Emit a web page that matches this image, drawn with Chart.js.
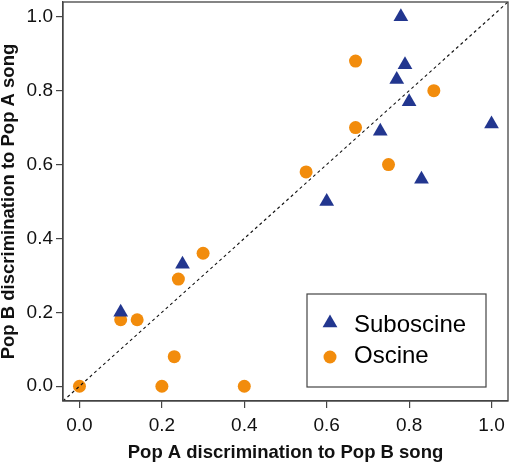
<!DOCTYPE html>
<html>
<head>
<meta charset="utf-8">
<script src="https://cdn.jsdelivr.net/npm/chart.js@4.4.1/dist/chart.umd.min.js"></script>
<style>
  html, body { margin: 0; padding: 0; background: #fff; }
  #wrap { width: 510px; height: 464px; }
</style>
</head>
<body>
<div id="wrap"><canvas id="grafico"></canvas></div>
<script>
// Dados
const suboscineX = [0.10, 0.25, 0.60, 0.73, 0.77, 0.78, 0.79, 0.80, 0.83, 1.00];
const suboscineY = [0.20, 0.33, 0.50, 0.69, 0.83, 1.00, 0.87, 0.77, 0.56, 0.71];

const oscineX = [0.00, 0.20, 0.40, 0.23, 0.10, 0.14, 0.24, 0.30, 0.55, 0.67, 0.67, 0.75, 0.86];
const oscineY = [0.00, 0.00, 0.00, 0.08, 0.18, 0.18, 0.29, 0.36, 0.58, 0.70, 0.88, 0.60, 0.80];

const diagonal = [-0.04, 1.04];
const ticksValores = [0.0, 0.2, 0.4, 0.6, 0.8, 1.0];

const azul = '#22368f';
const laranja = '#f28c0c';
const fonte = '"Liberation Sans", Arial, Helvetica, sans-serif';

function pontos(xs, ys) {
  return xs.map((x, i) => ({ x: x, y: ys[i] }));
}

// tira o espaço extra que o Chart.js reserva para os rótulos das pontas
function semPadding(s) {
  s.paddingTop = 0;
  s.paddingBottom = 0;
  s.paddingLeft = 0;
  s.paddingRight = 0;
}

// Caixa em volta do gráfico + legenda interna
const caixaPlugin = {
  id: 'caixa',
  afterDraw(chart) {
    const ctx = chart.ctx;
    const a = chart.chartArea;
    ctx.save();
    ctx.strokeStyle = '#444';
    ctx.lineWidth = 1.3;
    ctx.strokeRect(a.left, a.top, a.right - a.left, a.bottom - a.top);

    // legenda
    const w = 179, h = 93;
    const lx = a.right - 22 - w;
    const ly = a.bottom - 14 - h;
    ctx.fillStyle = '#fff';
    ctx.fillRect(lx, ly, w, h);
    ctx.strokeStyle = '#444';
    ctx.lineWidth = 1.2;
    ctx.strokeRect(lx, ly, w, h);

    ctx.fillStyle = azul;
    ctx.beginPath();
    ctx.moveTo(lx + 23, ly + 29 - 8.5);
    ctx.lineTo(lx + 23 - 7.4, ly + 29 + 4.25);
    ctx.lineTo(lx + 23 + 7.4, ly + 29 + 4.25);
    ctx.closePath();
    ctx.fill();

    ctx.fillStyle = laranja;
    ctx.beginPath();
    ctx.arc(lx + 23, ly + 63, 6.5, 0, Math.PI * 2);
    ctx.fill();

    ctx.fillStyle = '#000';
    ctx.font = '24px ' + fonte;
    ctx.textBaseline = 'middle';
    ctx.textAlign = 'left';
    ctx.fillText('Suboscine', lx + 47, ly + 31);
    ctx.fillText('Oscine', lx + 47, ly + 62);
    ctx.restore();
  }
};

const ctx = document.getElementById('grafico').getContext('2d');
new Chart(ctx, {
  type: 'scatter',
  data: {
    datasets: [
      {
        label: 'y = x',
        type: 'line',
        data: pontos(diagonal, diagonal),
        borderColor: '#111',
        borderWidth: 1.1,
        borderDash: [3, 3],
        pointRadius: 0,
        fill: false,
        order: 0
      },
      {
        label: 'Suboscine',
        data: pontos(suboscineX, suboscineY),
        pointStyle: 'triangle',
        pointRadius: 8.5,
        backgroundColor: azul,
        borderColor: azul,
        borderWidth: 0,
        order: 1
      },
      {
        label: 'Oscine',
        data: pontos(oscineX, oscineY),
        pointStyle: 'circle',
        pointRadius: 6.5,
        backgroundColor: laranja,
        borderColor: laranja,
        borderWidth: 0,
        order: 1
      }
    ]
  },
  options: {
    responsive: true,
    maintainAspectRatio: false,
    animation: false,
    layout: { autoPadding: false, padding: { top: 2, right: 2, left: 0, bottom: 0 } },
    plugins: {
      legend: { display: false },
      tooltip: { enabled: false }
    },
    scales: {
      x: {
        type: 'linear',
        min: -0.04,
        max: 1.04,
        afterBuildTicks: (s) => { s.ticks = ticksValores.map(v => ({ value: v })); },
        afterFit: (s) => { s.height = 63; semPadding(s); },
        grid: { drawOnChartArea: false, drawTicks: true, tickLength: 7, color: '#444', lineWidth: 1.2 },
        border: { display: true, color: '#444', width: 1.2 },
        ticks: {
          color: '#111',
          padding: 6,
          maxRotation: 0,
          font: { family: fonte, size: 19 },
          callback: (v) => Number(v).toFixed(1)
        },
        title: {
          display: true,
          text: 'Pop A discrimination to Pop B song',
          color: '#111',
          padding: { top: 0, bottom: 0 },
          font: { family: fonte, size: 18.5, weight: 'bold' }
        }
      },
      y: {
        type: 'linear',
        min: -0.04,
        max: 1.04,
        afterBuildTicks: (s) => { s.ticks = ticksValores.map(v => ({ value: v })); },
        afterFit: (s) => { s.width = 63; semPadding(s); },
        grid: { drawOnChartArea: false, drawTicks: true, tickLength: 7, color: '#444', lineWidth: 1.2 },
        border: { display: true, color: '#444', width: 1.2 },
        ticks: {
          color: '#111',
          padding: 3,
          font: { family: fonte, size: 19 },
          callback: (v) => Number(v).toFixed(1)
        },
        title: {
          display: true,
          text: 'Pop B discrimination to Pop A song',
          color: '#111',
          padding: { top: -2, bottom: 0 },
          font: { family: fonte, size: 18.5, weight: 'bold' }
        }
      }
    }
  },
  plugins: [caixaPlugin]
});
</script>
</body>
</html>
